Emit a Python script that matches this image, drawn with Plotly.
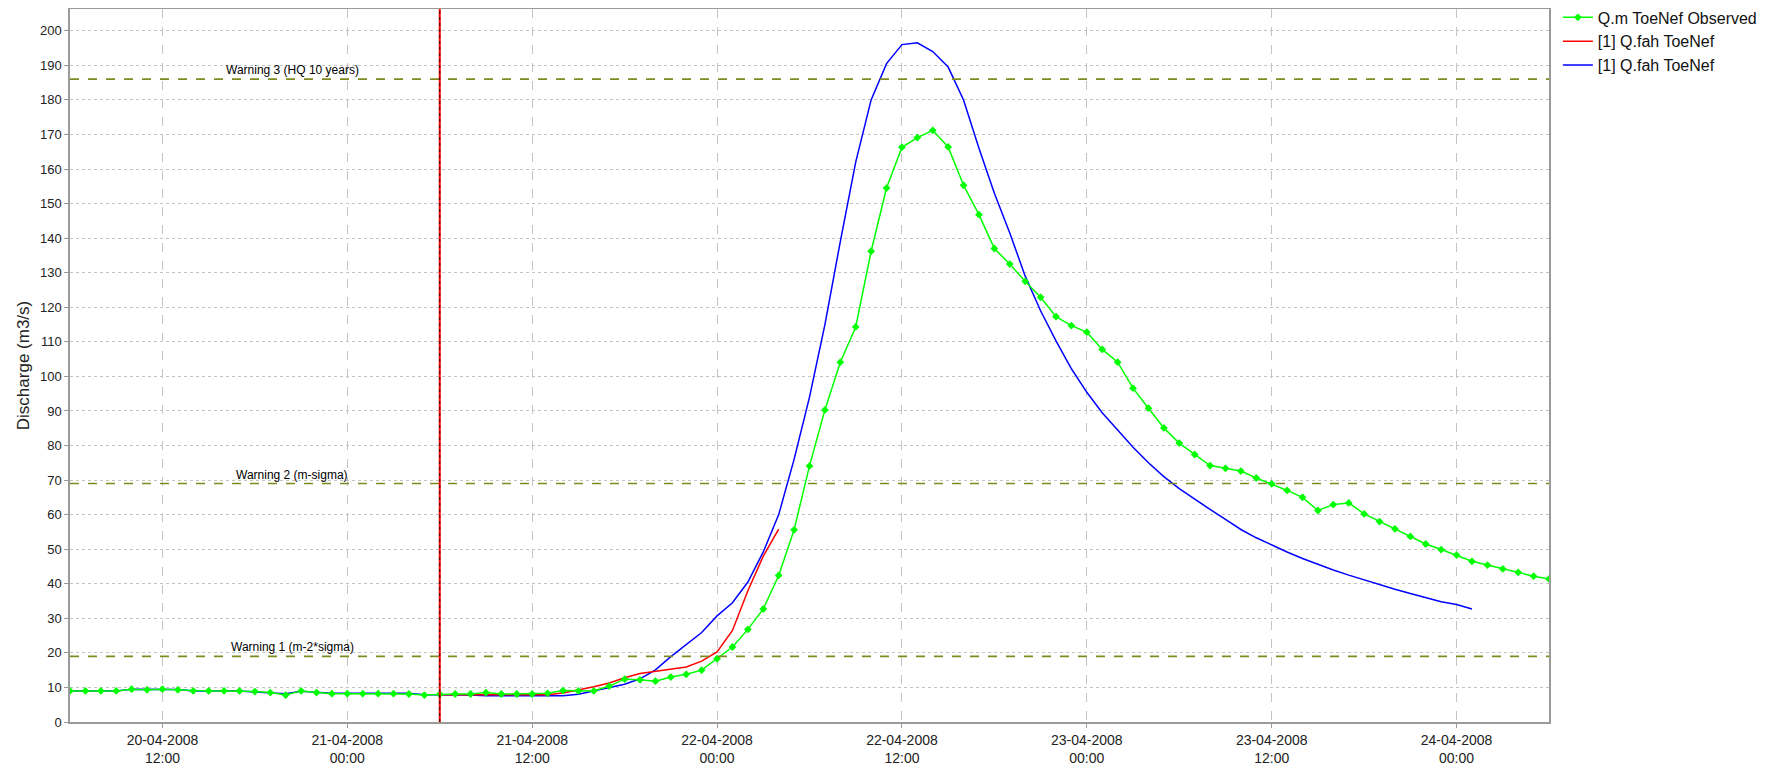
import pandas as pd
import plotly.graph_objects as go

# ---- data (hourly, starting 2008-04-20 06:00) ----
observed = [9.0, 9.0, 9.0, 9.0, 9.5, 9.3, 9.5, 9.3, 9.0, 9.0, 9.0, 9.0, 8.8, 8.5, 7.8, 9.0,
            8.5, 8.2, 8.2, 8.2, 8.2, 8.2, 8.1, 7.8, 8.0, 8.1, 8.1, 8.5, 8.1, 8.1, 8.1, 8.3,
            9.1, 9.0, 9.0, 10.4, 12.4, 12.2, 11.8, 13.0, 13.8, 15.0, 18.3, 21.7, 26.8, 32.7,
            42.4, 55.6, 74.1, 90.3, 104.1, 114.3, 136.2, 154.5, 166.3, 169.1, 171.2, 166.4,
            155.3, 146.8, 137.0, 132.5, 127.5, 122.9, 117.3, 114.7, 112.8, 107.8, 104.1, 96.6,
            90.8, 85.1, 80.7, 77.4, 74.2, 73.4, 72.6, 70.6, 68.9, 67.0, 65.0, 61.2, 62.9, 63.4,
            60.2, 58.0, 55.9, 53.7, 51.5, 49.9, 48.3, 46.5, 45.4, 44.3, 43.3, 42.2, 41.4]
obs_start = "2008-04-20 06:00"

forecast_red = [7.9, 7.9, 7.8, 7.8, 7.8, 7.8, 7.8, 7.9, 8.4, 9.2, 10.2, 11.3, 12.8, 14.0,
                14.7, 15.3, 15.9, 17.6, 20.3, 26.5, 38.0, 48.0, 55.8]
red_start = "2008-04-21 06:00"

forecast_blue = [9.0, 9.0, 9.0, 9.0, 9.5, 9.5, 9.5, 9.4, 9.0, 9.0, 9.0, 9.0, 8.7, 8.4, 8.2,
                 8.9, 8.5, 8.3, 8.3, 8.3, 8.3, 8.3, 8.3, 7.9, 7.9, 7.9, 7.8, 7.6, 7.6, 7.6,
                 7.6, 7.6, 7.6, 8.0, 8.9, 9.8, 10.9, 12.5, 15.1, 18.9, 22.5, 25.9, 30.7, 34.5,
                 40.5, 49.2, 60.0, 76.0, 94.0, 115.0, 139.0, 162.0, 180.0, 190.5, 196.0, 196.5,
                 194.0, 189.5, 180.0, 166.0, 153.0, 141.5, 129.0, 119.0, 110.3, 102.2, 95.4,
                 89.5, 84.5, 79.5, 75.0, 71.0, 67.5, 64.4, 61.5, 58.6, 55.7, 53.3, 51.2, 49.2,
                 47.3, 45.6, 44.0, 42.5, 41.1, 39.8, 38.4, 37.2, 35.9, 34.8, 34.0, 32.7]
blue_start = "2008-04-20 06:00"

warning_values = [19.0, 69.0, 186.0]
warning_labels = ["Warning 1 (m-2*sigma)", "Warning 2 (m-sigma)", "Warning 3 (HQ 10 years)"]
forecast_time = "2008-04-21 06:00"
label_time = "2008-04-20 20:25"

tick_times = ["2008-04-20 12:00", "2008-04-21 00:00", "2008-04-21 12:00", "2008-04-22 00:00",
              "2008-04-22 12:00", "2008-04-23 00:00", "2008-04-23 12:00", "2008-04-24 00:00"]
tick_labels = ["20-04-2008<br>12:00", "21-04-2008<br>00:00", "21-04-2008<br>12:00",
               "22-04-2008<br>00:00", "22-04-2008<br>12:00", "23-04-2008<br>00:00",
               "23-04-2008<br>12:00", "24-04-2008<br>00:00"]
x_range = ["2008-04-20 06:00", "2008-04-24 06:00"]

obs_t = pd.date_range(obs_start, periods=len(observed), freq="h")
red_t = pd.date_range(red_start, periods=len(forecast_red), freq="h")
blue_t = pd.date_range(blue_start, periods=len(forecast_blue), freq="h")

FONT = "Liberation Sans, Arial, sans-serif"

fig = go.Figure()
fig.add_trace(go.Scatter(x=blue_t, y=forecast_blue, mode="lines", name="[1] Q.fah ToeNef",
                         line=dict(color="#0000ff", width=1.5), legendrank=3))
fig.add_trace(go.Scatter(x=red_t, y=forecast_red, mode="lines", name="[1] Q.fah ToeNef",
                         line=dict(color="#ff0000", width=1.5), legendrank=2))
fig.add_trace(go.Scatter(x=obs_t, y=observed, mode="lines+markers", name="Q.m ToeNef Observed",
                         line=dict(color="#00ff00", width=1.5),
                         marker=dict(symbol="diamond", size=6, color="#00ff00"), legendrank=1))

for v, lab in zip(warning_values, warning_labels):
    fig.add_shape(type="line", xref="paper", x0=0, x1=1, yref="y", y0=v, y1=v,
                  line=dict(color="#7f8a1e", width=1.6, dash="dash"), layer="above")
    fig.add_annotation(x=label_time, y=v, xref="x", yref="y", text=lab, showarrow=False,
                       yanchor="bottom", yshift=0, font=dict(family=FONT, size=12, color="#000"))

fig.add_shape(type="line", xref="x", x0=forecast_time, x1=forecast_time, yref="paper", y0=0, y1=1,
              line=dict(color="#ff0000", width=2))
fig.add_shape(type="line", xref="x", x0=forecast_time, x1=forecast_time, yref="paper", y0=0, y1=1,
              line=dict(color="#300000", width=1, dash="dot"))

# the page adds an 8px offset; figure sized/margined to compensate
fig.update_layout(
    width=1771, height=757,
    margin=dict(l=62, r=230, t=1, b=43, autoexpand=False),
    paper_bgcolor="white", plot_bgcolor="white",
    font=dict(family=FONT, size=13, color="#222"),
    showlegend=True,
    legend=dict(x=1.006, y=1.012, xanchor="left", yanchor="top", font=dict(size=16, color="#111"),
                bgcolor="rgba(0,0,0,0)", tracegroupgap=0, itemwidth=30),
)
fig.update_xaxes(range=x_range, tickvals=tick_times, ticktext=tick_labels, tickangle=0,
                 showgrid=True, gridcolor="#c4c4c4", griddash="dash", gridwidth=1,
                 showline=True, linecolor="#9a9a9a", linewidth=1.5, mirror=True,
                 ticks="outside", ticklen=4, tickcolor="#9a9a9a", zeroline=False,
                 tickfont=dict(size=14, color="#222"), automargin=False)
fig.update_yaxes(range=[0, 206.3], dtick=10, tick0=0,
                 showgrid=True, gridcolor="#c4c4c4", griddash="dot", gridwidth=1,
                 showline=True, linecolor="#9a9a9a", linewidth=1.5, mirror=True,
                 ticks="outside", ticklen=4, tickcolor="#9a9a9a", zeroline=False,
                 tickfont=dict(size=13, color="#222"), automargin=False,
                 title=dict(text="Discharge (m3/s)", font=dict(size=17, color="#222"), standoff=6))

fig.write_html("out.html")
